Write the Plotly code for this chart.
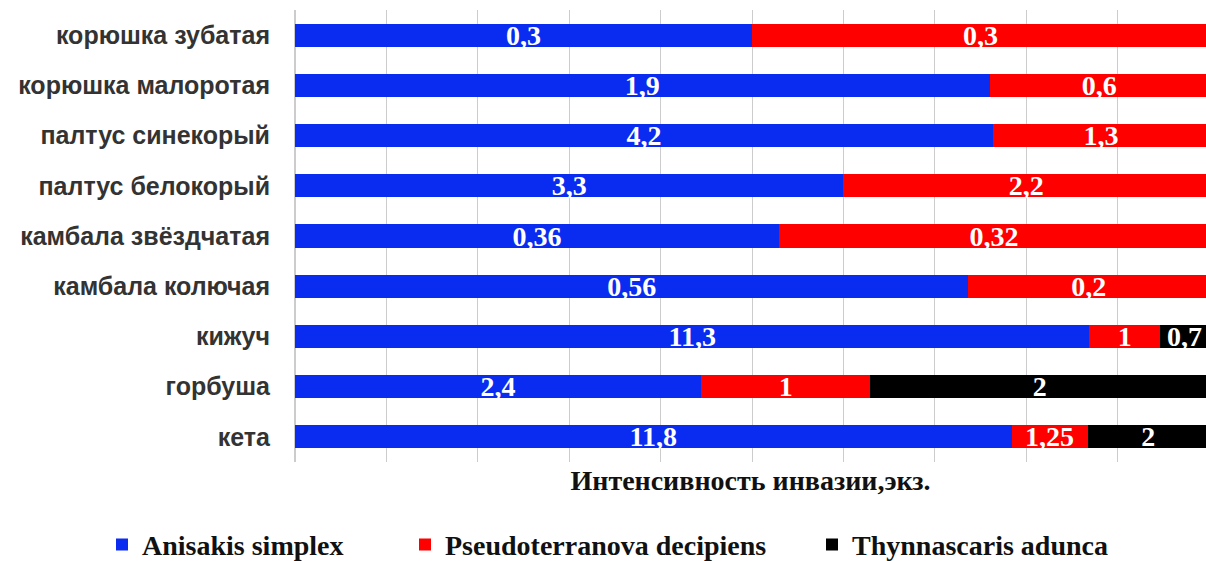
import plotly.graph_objects as go

categories = ["корюшка зубатая", "корюшка малоротая", "палтус синекорый", "палтус белокорый",
              "камбала звёздчатая", "камбала колючая", "кижуч", "горбуша", "кета"]
anisakis = [0.3, 1.9, 4.2, 3.3, 0.36, 0.56, 11.3, 2.4, 11.8]
pseudoterranova = [0.3, 0.6, 1.3, 2.2, 0.32, 0.2, 1, 1, 1.25]
thynnascaris = [0, 0, 0, 0, 0, 0, 0.7, 2, 2]
series_names = ["Anisakis simplex", "Pseudoterranova decipiens", "Thynnascaris adunca"]
colors = ["#0a2cf0", "#ff0000", "#000000"]

def fmt(v):
    if v == 0:
        return ""
    return ("%g" % v).replace(".", ",")

fig = go.Figure()
legends = ["legend", "legend2", "legend3"]
for name, vals, col, lg in zip(series_names, [anisakis, pseudoterranova, thynnascaris], colors, legends):
    fig.add_trace(go.Bar(
        y=categories, x=vals, name="<b>%s</b>" % name, orientation="h",
        marker=dict(color=col, line=dict(width=0)),
        text=[fmt(v) for v in vals], texttemplate="<b>%{text}</b>",
        textposition="inside", insidetextanchor="middle",
        textangle=0, constraintext="none",
        textfont=dict(family="Liberation Serif", size=28, color="white"),
        legend=lg,
    ))

# plot area: x 295..1206 (911 px), y 10..462 (452 px)
legend_font = dict(family="Liberation Serif", size=28, color="#111111")
common = dict(orientation="h", yanchor="middle", xanchor="left", font=legend_font,
              bgcolor="rgba(0,0,0,0)", itemwidth=30, tracegroupgap=0)
fig.update_layout(
    barmode="stack", barnorm="percent", bargap=0.54,
    width=1206, height=561,
    margin=dict(l=295, r=0, t=10, b=99, autoexpand=False),
    paper_bgcolor="white", plot_bgcolor="white",
    font=dict(family="Liberation Sans", color="#333333"),
    xaxis=dict(range=[0, 99.67], dtick=10, showticklabels=False, showgrid=True,
               gridcolor="#cccccc", gridwidth=1, zeroline=True, zerolinecolor="#cccccc",
               automargin=False,
               title=dict(text="<b>Интенсивность инвазии,экз.</b>", standoff=8,
                          font=dict(family="Liberation Serif", size=28, color="#111111"))),
    yaxis=dict(autorange="reversed", showgrid=False, ticks="", automargin=False,
               ticklabelstandoff=24,
               tickvals=categories, ticktext=["<b>%s</b>" % c for c in categories],
               tickfont=dict(family="Liberation Sans", size=25, color="#333333")),
    legend=dict(x=(102 - 295) / 911, y=-0.183, **common),
    legend2=dict(x=(405 - 295) / 911, y=-0.183, **common),
    legend3=dict(x=(812 - 295) / 911, y=-0.183, **common),
    showlegend=True,
)

fig.write_html("out.html", config={"displayModeBar": False},
               post_script="document.body.style.margin='0';document.body.style.overflow='hidden';")
